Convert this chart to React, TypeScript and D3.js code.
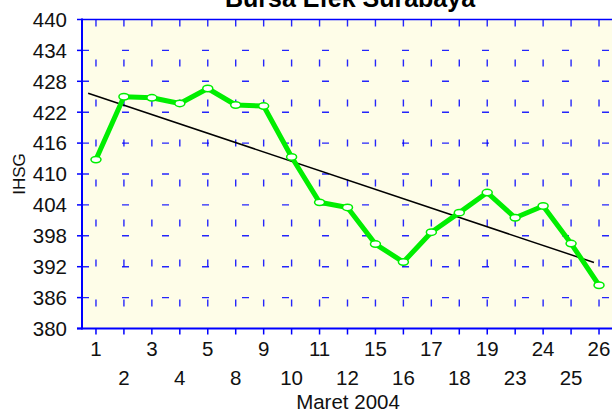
import React from 'react';
import * as d3 from 'd3';

// IHSG closing values, Maret 2004
const dates = ['1', '2', '3', '4', '5', '8', '9', '10', '11', '12', '15', '16', '17', '18', '19', '23', '24', '25', '26'];
const ihsg = [412.8, 425.0, 424.8, 423.7, 426.6, 423.4, 423.2, 413.3, 404.5, 403.5, 396.4, 392.9, 398.7, 402.5, 406.4, 401.5, 403.8, 396.5, 388.4];
const yTicks = [380, 386, 392, 398, 404, 410, 416, 422, 428, 434, 440];

const W = 612;
const H = 413;
const left = 82;
const right = 613;
const top = 19.5;
const bottom = 328.5;
const font = '"Liberation Sans", Arial, sans-serif';
const blue = '#0000ff';
const green = '#00ee00';

export default function App() {
  const x = d3.scalePoint<string>().domain(dates).range([left, right]).padding(0.5);
  const y = d3.scaleLinear().domain([380, 440]).range([bottom, top]);
  const step = x.step();

  // linear trend (least squares over index)
  const idx = ihsg.map((_, i) => i);
  const mi = d3.mean(idx) as number;
  const mv = d3.mean(ihsg) as number;
  const slope = d3.sum(idx, i => (i - mi) * (ihsg[i] - mv)) / d3.sum(idx, i => (i - mi) ** 2);
  const trendAt = (i: number) => mv + slope * (i - mi);
  const trendFrom = -0.28;
  const trendTo = 17.82;
  const xi = (i: number) => (x(dates[0]) as number) + i * step;

  const line = d3.line<number>()
    .x((_, i) => x(dates[i]) as number)
    .y(d => y(d));

  return (
    <svg width={W} height={H} style={{ position: 'absolute', left: 0, top: 0 }}>
      <rect x={0} y={0} width={W} height={H} fill="#ffffff" />
      <rect x={left} y={top} width={right - left} height={bottom - top} fill="#fefde8" />

      {/* dashed grid */}
      {dates.map(d => (
        <line key={'v' + d} x1={x(d)} x2={x(d)} y1={top} y2={bottom}
          stroke={blue} strokeWidth={1.4} strokeDasharray="7 33" opacity={0.85} />
      ))}
      {yTicks.slice(1, -1).map(t => (
        <line key={'h' + t} x1={left} x2={right} y1={y(t)} y2={y(t)}
          stroke={blue} strokeWidth={1.4} strokeDasharray="7 33" opacity={0.85} />
      ))}

      {/* axes */}
      <line x1={left} x2={right} y1={top} y2={top} stroke={blue} strokeWidth={1.5} />
      <line x1={left} x2={left} y1={top - 1} y2={bottom + 1} stroke={blue} strokeWidth={2} />
      <line x1={left - 5} x2={right} y1={bottom} y2={bottom} stroke={blue} strokeWidth={2} />
      {yTicks.map(t => (
        <g key={'yt' + t}>
          <line x1={left - 5} x2={left} y1={y(t)} y2={y(t)} stroke={blue} strokeWidth={1.5} />
          <text x={67} y={y(t)} dy="0.36em" textAnchor="end" fontFamily={font} fontSize={20.5} fill="#111">{t}</text>
        </g>
      ))}
      {dates.map((d, i) => (
        <g key={'xt' + d}>
          <line x1={x(d)} x2={x(d)} y1={bottom} y2={bottom + 6} stroke={blue} strokeWidth={1.5} />
          <text x={x(d)} y={i % 2 === 0 ? 356 : 385} textAnchor="middle" fontFamily={font} fontSize={20.5} fill="#111">{d}</text>
        </g>
      ))}

      {/* trend */}
      <line x1={xi(trendFrom)} y1={y(trendAt(trendFrom))} x2={xi(trendTo)} y2={y(trendAt(trendTo))}
        stroke="#000" strokeWidth={1.5} />

      {/* series */}
      <path d={line(ihsg) as string} fill="none" stroke={green} strokeWidth={5} strokeLinejoin="round" />
      {ihsg.map((v, i) => (
        <ellipse key={'p' + i} cx={x(dates[i])} cy={y(v)} rx={5} ry={3.2} fill="#fff" stroke={green} strokeWidth={1.5} />
      ))}

      {/* labels */}
      <text x={350} y={7} textAnchor="middle" fontFamily={font} fontWeight="bold" fontSize={25} fill="#000">Bursa Efek Surabaya</text>
      <text transform={`translate(25,${(top + bottom) / 2}) rotate(-90)`} textAnchor="middle" fontFamily={font} fontSize={17} fill="#111">IHSG</text>
      <text x={348} y={409} textAnchor="middle" fontFamily={font} fontSize={20.5} fill="#111">Maret 2004</text>
    </svg>
  );
}
